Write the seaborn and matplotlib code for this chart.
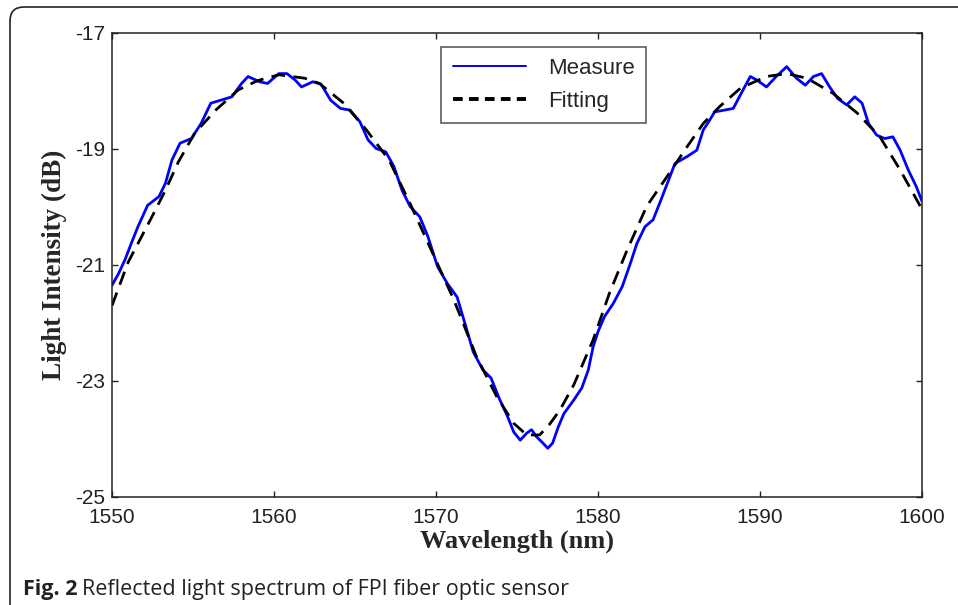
import matplotlib
matplotlib.use('Agg')
from matplotlib import pyplot as plt
from matplotlib.patches import FancyBboxPatch
from matplotlib.transforms import IdentityTransform
import pandas as pd
import seaborn as sns

measure_wl = [1550.0, 1550.4, 1550.8, 1551.2, 1551.6, 1552.2, 1552.9, 1553.3, 1553.7, 1554.2,
              1554.9, 1555.5, 1556.1, 1556.7, 1557.4, 1558.0, 1558.4, 1559.1, 1559.6, 1560.3,
              1560.8, 1561.3, 1561.7, 1562.4, 1562.9, 1563.5, 1564.1, 1564.7, 1565.3, 1565.8,
              1566.3, 1566.9, 1567.4, 1567.9, 1568.4, 1569.0, 1569.5, 1570.1, 1570.7, 1571.3,
              1571.8, 1572.3, 1572.9, 1573.4, 1573.9, 1574.4, 1574.8, 1575.2, 1575.6, 1575.9,
              1576.2, 1576.6, 1576.9, 1577.2, 1577.55, 1577.9, 1578.5, 1579.0, 1579.4, 1579.7,
              1580.0, 1580.4, 1580.95, 1581.5, 1582.0, 1582.4, 1582.9, 1583.4, 1583.8, 1584.2,
              1584.75, 1585.5, 1586.1, 1586.5, 1586.9, 1587.2, 1587.8, 1588.35, 1588.9, 1589.4,
              1589.8, 1590.4, 1591.0, 1591.65, 1592.25, 1592.8, 1593.3, 1593.8, 1594.3, 1594.8,
              1595.35, 1595.85, 1596.3, 1596.7, 1597.2, 1597.7, 1598.2, 1598.65, 1599.15, 1599.65,
              1600.0]
measure_db = [-21.35, -21.15, -20.91, -20.62, -20.34, -19.97, -19.82, -19.59, -19.19, -18.90,
              -18.82, -18.56, -18.21, -18.16, -18.10, -17.87, -17.75, -17.84, -17.87, -17.70,
              -17.70, -17.81, -17.93, -17.84, -17.88, -18.16, -18.30, -18.33, -18.53, -18.84,
              -18.99, -19.05, -19.30, -19.71, -19.99, -20.17, -20.51, -21.03, -21.32, -21.55,
              -22.02, -22.50, -22.81, -22.95, -23.30, -23.60, -23.88, -24.02, -23.90, -23.84,
              -23.96, -24.07, -24.16, -24.07, -23.79, -23.56, -23.33, -23.12, -22.81, -22.41,
              -22.15, -21.89, -21.66, -21.37, -20.97, -20.63, -20.34, -20.22, -19.94, -19.65,
              -19.25, -19.13, -19.02, -18.67, -18.50, -18.36, -18.33, -18.30, -18.01, -17.75,
              -17.81, -17.93, -17.75, -17.58, -17.78, -17.90, -17.75, -17.70, -17.93, -18.13,
              -18.24, -18.10, -18.21, -18.56, -18.76, -18.82, -18.79, -19.02, -19.36, -19.65,
              -19.90]

# Fitted curve
fit_wl = [1550.0, 1551.0, 1551.6, 1552.5, 1553.3, 1554.1, 1555.1, 1556.4, 1557.8, 1559.0,
          1560.3, 1561.9, 1562.8, 1564.3, 1565.7, 1567.1, 1568.4, 1569.8, 1571.1, 1572.5,
          1573.75, 1574.8, 1575.6, 1576.4, 1577.0, 1577.65, 1578.5, 1579.7, 1580.7, 1581.8,
          1583.0, 1584.25, 1585.5, 1586.5, 1587.5, 1588.8, 1590.4, 1591.65, 1592.9, 1594.5,
          1596.0, 1597.4, 1598.65, 1599.9]
fit_db = [-21.70, -20.95, -20.63, -20.15, -19.71, -19.22, -18.73, -18.33, -17.98, -17.82,
          -17.72, -17.78, -17.87, -18.21, -18.67, -19.19, -19.94, -20.80, -21.60, -22.58,
          -23.27, -23.73, -23.93, -23.93, -23.75, -23.50, -23.07, -22.29, -21.49, -20.74,
          -19.99, -19.48, -18.96, -18.56, -18.27, -17.95, -17.75, -17.70, -17.78, -18.04,
          -18.38, -18.79, -19.36, -19.99]

x_ticks = [1550, 1560, 1570, 1580, 1590, 1600]
y_ticks = [-25, -23, -21, -19, -17]

df_measure = pd.DataFrame({'wavelength': measure_wl, 'intensity': measure_db})
df_fit = pd.DataFrame({'wavelength': fit_wl, 'intensity': fit_db})

sns.set_style('ticks')
plt.rcParams['font.family'] = ['Liberation Sans', 'DejaVu Sans']
plt.rcParams['axes.unicode_minus'] = False

fig = plt.figure(figsize=(9.58, 6.05), dpi=100)
ax = fig.add_axes([112 / 958, 1 - 497 / 605, 810 / 958, 464 / 605])

sns.lineplot(x='wavelength', y='intensity', data=df_measure, color='#0000ff',
             linewidth=2.0, label='Measure', ax=ax, sort=False)
sns.lineplot(x='wavelength', y='intensity', data=df_fit, color='black',
             linewidth=2.0, label='Fitting', ax=ax, sort=False)
ax.lines[1].set_dashes((5, 3))

ax.set_xlim(1550, 1600)
ax.set_ylim(-25, -17)
ax.set_xticks(x_ticks)
ax.set_yticks(y_ticks)
ax.tick_params(direction='in', length=4, width=1, top=True, right=True,
               labelsize=15, colors='#222222')
ax.tick_params(axis='x', pad=8)
ax.tick_params(axis='y', pad=5)
for s in ax.spines.values():
    s.set_linewidth(1.1)
    s.set_color('#222222')

ax.set_xlabel('Wavelength (nm)', fontsize=19, fontweight='bold',
              family='Liberation Serif', labelpad=2)
ax.set_ylabel('Light Intensity (dB)', fontsize=19.5, fontweight='bold',
              family='Liberation Serif', labelpad=6)

leg = ax.legend(loc='upper center', bbox_to_anchor=(0.533, 0.97), fontsize=16,
                frameon=True, fancybox=False, handlelength=3.3, handletextpad=1.0,
                borderpad=0.5, labelspacing=0.55, borderaxespad=0)
leg.get_frame().set_edgecolor('#222222')
leg.get_frame().set_linewidth(1.1)
leg.get_lines()[1].set_dashes((2.5, 1.6))
leg.get_lines()[1].set_linewidth(2.8)
leg.get_lines()[0].set_linewidth(1.4)

# outer frame of the figure panel
frame = FancyBboxPatch((10, -30), 990, 605 - 7 + 30, boxstyle='round,pad=0,rounding_size=14',
                       transform=IdentityTransform(), fill=False, edgecolor='#222222',
                       linewidth=1.2, clip_on=False)
fig.add_artist(frame)

cap_y = 1 - 589 / 605
t1 = fig.text(23 / 958, cap_y, 'Fig. 2', fontsize=15.5, fontweight='bold',
              family='Open Sans', va='center', ha='left', color='#222222')
fig.canvas.draw()
x1 = t1.get_window_extent().x1
fig.text((x1 + 5) / 958, cap_y, 'Reflected light spectrum of FPI fiber optic sensor',
         fontsize=15.5, family='Open Sans', va='center', ha='left', color='#222222')

plt.savefig('out.png', dpi=100)
